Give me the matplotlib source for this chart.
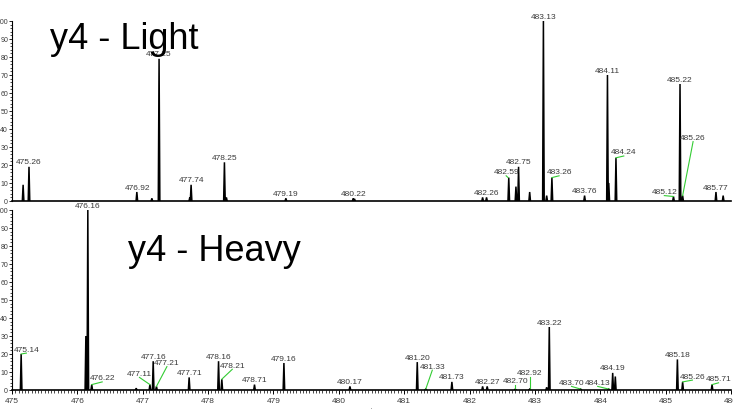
import matplotlib
matplotlib.use("Agg")
import matplotlib.pyplot as plt
import numpy as np
from matplotlib.ticker import MultipleLocator

plt.rcParams['font.family'] = ['Liberation Sans', 'DejaVu Sans']

# y4 - Light spectrum: peak m/z and relative intensity
light_mz = [475.17, 475.26, 476.91, 477.14, 477.25, 477.72, 477.74, 478.25, 478.28,
            479.19, 480.22, 480.24, 482.20, 482.26, 482.60, 482.71, 482.75, 482.92,
            483.13, 483.18, 483.26, 483.76, 484.11, 484.13, 484.24, 485.12, 485.22,
            485.26, 485.77, 485.88]
light_int = [9, 19, 5, 1.5, 79, 2, 9, 21.5, 2,
             1.5, 1.5, 1.2, 2, 2, 13, 8, 19, 5,
             100, 3, 13, 3, 70, 10, 24, 2.5, 65,
             3, 5, 3]
light_labels = ['475.26', '476.92', '477.25', '477.74', '478.25', '479.19', '480.22',
                '482.26', '482.59', '482.75', '483.13', '483.26', '483.76', '484.11',
                '484.24', '485.12', '485.22', '485.26', '485.77']
light_label_int = [19, 5, 79, 9, 21.5, 1.5, 1.5, 2, 13, 19, 100, 13, 3, 70, 24, 2.5, 65, 3, 5]

# y4 - Heavy spectrum
heavy_mz = [475.14, 476.13, 476.16, 476.22, 476.90, 477.11, 477.16, 477.21, 477.71,
            478.16, 478.21, 478.71, 479.16, 480.17, 481.20, 481.33, 481.73, 482.20,
            482.27, 482.70, 482.92, 483.18, 483.22, 483.70, 484.13, 484.19, 484.23,
            485.18, 485.26, 485.71]
heavy_int = [20, 30, 100, 3, 1, 3, 16, 2, 7,
             16, 6, 3, 15, 2, 15.5, 0.5, 4.5, 2,
             2, 0.5, 0.5, 1.5, 35, 0.5, 0.5, 9.5, 7.5,
             17, 4.5, 3]
heavy_labels = ['475.14', '476.16', '476.22', '477.11', '477.16', '477.21', '477.71',
                '478.16', '478.21', '478.71', '479.16', '480.17', '481.20', '481.33',
                '481.73', '482.27', '482.70', '482.92', '483.22', '483.70', '484.13',
                '484.19', '485.18', '485.26', '485.71']
heavy_label_int = [20, 100, 3, 3, 16, 2, 7, 16, 6, 3, 15, 2, 15.5, 0.5, 4.5, 2, 0.5,
                   0.5, 35, 0.5, 0.5, 9.5, 17, 4.5, 3]

# label offsets (m/z, %) for labels pulled away from their peak with a green leader
light_offsets = {'482.59': (-0.03, 1), '483.26': (0.11, 1), '484.24': (0.12, 1),
                 '485.12': (-0.14, 0.5), '485.26': (0.16, 30)}
heavy_offsets = {'475.14': (0.08, 0.5), '476.22': (0.16, 1.5), '477.11': (-0.16, 4),
                 '477.21': (0.16, 11), '478.21': (0.16, 5.5), '481.33': (0.1, 10.5),
                 '482.70': (0.0, 2.3), '482.92': (0.0, 7), '483.70': (-0.14, 1.5),
                 '484.13': (-0.17, 1.5), '485.26': (0.15, 1), '485.71': (0.1, 1)}

fig = plt.figure(figsize=(7.33, 4.10), dpi=100)
ax_top = fig.add_axes([12 / 733, 1 - 202 / 410, 719 / 733, 180 / 410])
ax_bot = fig.add_axes([12 / 733, 1 - 391 / 410, 719 / 733, 180 / 410])

label_col = '#3a3a3a'


def draw_spectrum(ax, mz, inten, labels, label_int, offsets):
    mz = np.asarray(mz)
    inten = np.asarray(inten)
    w = 0.012
    xs = np.column_stack([mz - w, mz, mz + w, np.full(len(mz), np.nan)]).ravel()
    ys = np.column_stack([np.zeros(len(mz)), inten, np.zeros(len(mz)),
                          np.full(len(mz), np.nan)]).ravel()
    ax.fill(xs[~np.isnan(xs)], ys[~np.isnan(ys)], color='black', lw=0)
    ax.plot(xs, ys, color='black', lw=1.1, solid_joinstyle='miter')
    for lab, yi in zip(labels, label_int):
        m = float(lab)
        if lab in offsets:
            dx, dy = offsets[lab]
            tx, ty = m + dx, yi + dy
            ax.plot([m, tx], [yi, ty], color='#33cc33', lw=0.8, clip_on=False)
            ax.text(tx, ty + 0.3, lab, ha='center', va='bottom', fontsize=6,
                    color=label_col, clip_on=False)
        else:
            ax.text(m, yi + 0.8, lab, ha='center', va='bottom', fontsize=6,
                    color=label_col, clip_on=False)


draw_spectrum(ax_top, light_mz, light_int, light_labels, light_label_int, light_offsets)
draw_spectrum(ax_bot, heavy_mz, heavy_int, heavy_labels, heavy_label_int, heavy_offsets)

for ax in (ax_top, ax_bot):
    ax.set_xlim(475, 486)
    ax.set_ylim(0, 100)
    ax.spines['top'].set_visible(False)
    ax.spines['right'].set_visible(False)
    ax.spines['left'].set_linewidth(0.8)
    ax.spines['bottom'].set_linewidth(1.2)
    ax.yaxis.set_major_locator(MultipleLocator(10))
    ax.yaxis.set_minor_locator(MultipleLocator(2))
    ax.tick_params(axis='y', which='major', length=2.3, width=0.6, labelsize=5,
                   pad=0.5, labelcolor=label_col)
    ax.tick_params(axis='y', which='minor', length=1.5, width=0.5)
    ax.patch.set_alpha(0)

ax_top.tick_params(axis='x', which='both', bottom=False, labelbottom=False)

ax_bot.xaxis.set_major_locator(MultipleLocator(1))
ax_bot.xaxis.set_minor_locator(MultipleLocator(0.05))
ax_bot.tick_params(axis='x', which='major', length=3, width=0.7, labelsize=6,
                   pad=2, labelcolor=label_col)
ax_bot.tick_params(axis='x', which='minor', length=1.8, width=0.5)
ax_bot.set_xlabel('m/z', fontsize=4, labelpad=2, color=label_col)

fig.text(50 / 733, 1 - 49 / 410, 'y4 - Light', fontsize=26, va='baseline', ha='left')
fig.text(128 / 733, 1 - 261 / 410, 'y4 - Heavy', fontsize=26, va='baseline', ha='left')

fig.savefig('out.png', dpi=100)
